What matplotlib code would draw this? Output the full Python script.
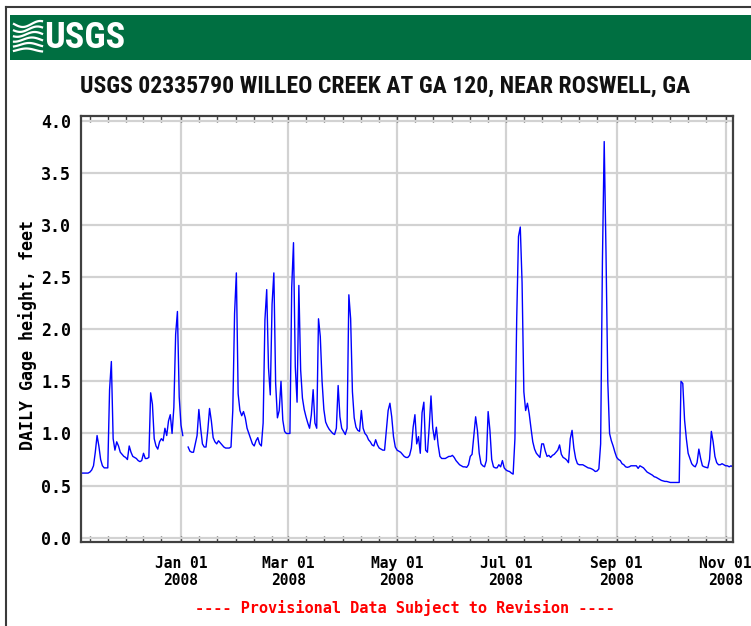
import numpy as np
import matplotlib
matplotlib.use("Agg")
import matplotlib.pyplot as plt
import matplotlib.dates as mdates
from matplotlib.lines import Line2D
from matplotlib.patches import Rectangle
from matplotlib import font_manager as fm

# ---------------- data (daily gage height, feet) ----------------
start_date = "2007-11-06"
nov_2007 = [0.62, 0.62, 0.62, 0.62, 0.62, 0.63, 0.65, 0.69, 0.82, 0.98, 0.88, 0.75, 0.69,
            0.67, 0.67, 0.67, 1.42, 1.69, 0.95, 0.84, 0.92, 0.88, 0.82, 0.80, 0.78]
dec_2007 = [0.77, 0.75, 0.88, 0.82, 0.78, 0.77, 0.76, 0.74, 0.73, 0.74, 0.81, 0.76, 0.76,
            0.77, 1.39, 1.28, 0.95, 0.88, 0.85, 0.92, 0.95, 0.93, 1.05, 0.98, 1.12, 1.18,
            1.00, 1.25, 1.95, 2.17, 1.35]
jan_2008 = [1.08, 0.98, np.nan, np.nan, 0.87, 0.83, 0.82, 0.82, 0.90, 0.98, 1.23, 1.05,
            0.90, 0.87, 0.87, 1.03, 1.24, 1.12, 0.96, 0.92, 0.90, 0.93, 0.91, 0.89, 0.87,
            0.86, 0.86, 0.86, 0.87, 1.22, 2.15]
feb_2008 = [2.54, 1.38, 1.22, 1.17, 1.21, 1.15, 1.05, 1.00, 0.95, 0.90, 0.88, 0.93, 0.96,
            0.90, 0.88, 1.10, 2.09, 2.38, 1.63, 1.37, 2.24, 2.54, 1.48, 1.15, 1.22, 1.50,
            1.13, 1.02, 1.00]
mar_2008 = [1.00, 1.00, 2.40, 2.83, 1.64, 1.30, 2.42, 1.61, 1.34, 1.23, 1.16, 1.10, 1.05,
            1.18, 1.42, 1.10, 1.05, 2.10, 1.93, 1.50, 1.23, 1.11, 1.07, 1.04, 1.02, 1.00,
            0.99, 1.05, 1.46, 1.16, 1.05]
apr_2008 = [1.02, 0.99, 1.05, 2.33, 2.10, 1.40, 1.15, 1.06, 1.03, 1.02, 1.22, 1.05, 1.00,
            0.98, 0.94, 0.92, 0.89, 0.88, 0.94, 0.89, 0.86, 0.85, 0.84, 0.84, 1.03, 1.22,
            1.29, 1.16, 0.97, 0.87]
may_2008 = [0.84, 0.83, 0.82, 0.80, 0.78, 0.77, 0.77, 0.79, 0.86, 1.06, 1.18, 0.90, 0.97,
            0.81, 1.20, 1.30, 0.84, 0.82, 1.06, 1.36, 1.05, 0.94, 1.06, 0.89, 0.78, 0.76,
            0.76, 0.76, 0.77, 0.78, 0.78]
jun_2008 = [0.79, 0.77, 0.74, 0.72, 0.70, 0.69, 0.68, 0.68, 0.675, 0.70, 0.78, 0.80, 0.98,
            1.16, 1.03, 0.81, 0.71, 0.69, 0.68, 0.74, 1.21, 1.03, 0.75, 0.68, 0.67, 0.67,
            0.70, 0.68, 0.74, 0.67]
jul_2008 = [0.65, 0.64, 0.635, 0.62, 0.61, 0.95, 2.10, 2.89, 2.98, 2.45, 1.40, 1.22, 1.29,
            1.19, 1.05, 0.92, 0.85, 0.81, 0.79, 0.77, 0.90, 0.90, 0.83, 0.78, 0.79, 0.77,
            0.79, 0.80, 0.82, 0.84, 0.89]
aug_2008 = [0.80, 0.77, 0.76, 0.745, 0.72, 0.95, 1.03, 0.86, 0.76, 0.71, 0.70, 0.70, 0.70,
            0.69, 0.68, 0.67, 0.667, 0.66, 0.65, 0.635, 0.64, 0.66, 0.90, 2.65, 3.80, 2.74,
            1.50, 1.00, 0.93, 0.88, 0.82]
sep_2008 = [0.77, 0.75, 0.74, 0.71, 0.70, 0.68, 0.675, 0.68, 0.69, 0.69, 0.69, 0.69, 0.665,
            0.69, 0.68, 0.67, 0.65, 0.63, 0.62, 0.61, 0.60, 0.585, 0.58, 0.57, 0.56, 0.55,
            0.545, 0.54, 0.54, 0.535]
oct_2008 = [0.53, 0.53, 0.53, 0.53, 0.53, 0.53, 1.50, 1.48, 1.13, 0.95, 0.81, 0.76, 0.71,
            0.69, 0.68, 0.72, 0.85, 0.76, 0.69, 0.68, 0.675, 0.67, 0.75, 1.02, 0.92, 0.78,
            0.72, 0.70, 0.70, 0.71, 0.70]
nov_2008 = [0.69, 0.69, 0.68, 0.69, 0.68]

xtick_dates = ["2008-01-01", "2008-03-01", "2008-05-01", "2008-07-01", "2008-09-01", "2008-11-01"]
xtick_labels = ["Jan 01\n2008", "Mar 01\n2008", "May 01\n2008", "Jul 01\n2008", "Sep 01\n2008", "Nov 01\n2008"]
yticks = [0.0, 0.5, 1.0, 1.5, 2.0, 2.5, 3.0, 3.5, 4.0]
ytick_labels = ["0.0", "0.5", "1.0", "1.5", "2.0", "2.5", "3.0", "3.5", "4.0"]

title = "USGS 02335790 WILLEO CREEK AT GA 120, NEAR ROSWELL, GA"
ylabel = "DAILY Gage height, feet"
footer = "---- Provisional Data Subject to Revision ----"

values = np.array(nov_2007 + dec_2007 + jan_2008 + feb_2008 + mar_2008 + apr_2008 +
                  may_2008 + jun_2008 + jul_2008 + aug_2008 + sep_2008 + oct_2008 + nov_2008,
                  dtype=float)
dates = np.datetime64(start_date) + np.arange(len(values)).astype("timedelta64[D]")

# ---------------- fonts: look for a condensed bold sans ----------------
def is_condensed(f):
    st = f.stretch
    if isinstance(st, (int, float)):
        return st < 500
    st = str(st).lower()
    return ("condensed" in st) or ("narrow" in f.name.lower()) or ("condensed" in f.name.lower())

def is_bold(f):
    w = f.weight
    if isinstance(w, (int, float)):
        return 600 <= w <= 800
    return str(w).lower() in ("bold", "demibold", "semibold")

prefs = ["Liberation Sans Narrow", "Roboto Condensed", "Open Sans Condensed",
         "Noto Sans", "DejaVu Sans", "Open Sans", "Roboto", "Noto Sans Display"]
cond = [f for f in fm.fontManager.ttflist if is_condensed(f) and is_bold(f)]
cond_fp = None
for p in prefs:
    hits = [f for f in cond if f.name == p and "italic" not in str(f.style).lower()]
    if hits:
        cond_fp = fm.FontProperties(fname=hits[0].fname)
        break
if cond_fp is None:
    title_fp = fm.FontProperties(family="Liberation Sans", weight="bold", size=14)
    logo_fp = fm.FontProperties(family="Liberation Sans", weight="bold", size=24)
else:
    title_fp = cond_fp.copy()
    title_fp.set_size(17)
    logo_fp = cond_fp.copy()
    logo_fp.set_size(30)

mono = "DejaVu Sans Mono"

W, H = 751, 626
fig = plt.figure(figsize=(W / 100, H / 100), dpi=100)
fig.patch.set_facecolor("white")

def fx(x):
    return np.asarray(x) / W

def fy(y):
    return 1 - np.asarray(y) / H

# outer border
fig.add_artist(Line2D([fx(6.5), fx(6.5)], [0, fy(6.5)], color="#3a3a3a", lw=1.5))
fig.add_artist(Line2D([fx(6.5), 1], [fy(6.5), fy(6.5)], color="#3a3a3a", lw=1.5))

# green banner
fig.add_artist(Rectangle((fx(9.5), fy(60)), 1, 45 / H, facecolor="#006f41",
                         edgecolor="none", transform=fig.transFigure))
# logo waves
t = np.linspace(0, 1, 50)
for k in range(6):
    yy = 24 + k * 5.2 + 3.0 * np.sin(t * np.pi * 1.6 + k * 0.5) * (1 - 0.1 * k)
    xx = 14 + 28 * t
    fig.add_artist(Line2D(fx(xx), fy(yy), color="white", lw=1.6))
logo_txt = fig.text(fx(44), fy(38), "USGS", color="white", fontproperties=logo_fp,
                    ha="left", va="center")

# title
title_txt = fig.text(fx(385), fy(86), title, fontproperties=title_fp,
                     ha="center", va="center", color="#111111")

# ---------------- axes ----------------
ax = fig.add_axes([fx(81), fy(542), (733 - 81) / W, (542 - 116) / H])
ax.plot(dates, values, color="#0000ff", lw=1.0)
ax.set_ylim(-0.041, 4.045)
ax.set_xlim(np.datetime64("2007-11-06"), np.datetime64("2008-11-05T03:00"))

ax.set_yticks(yticks)
ax.set_yticklabels(ytick_labels)
ax.set_xticks([np.datetime64(d) for d in xtick_dates])
ax.set_xticklabels(xtick_labels)
ax.xaxis.set_minor_locator(mdates.DayLocator(bymonthday=[1, 11, 21]))

ax.grid(True, which="major", color="#d2d2d2", lw=1.6)
ax.set_axisbelow(True)
for s in ax.spines.values():
    s.set_color("#404040")
    s.set_linewidth(1.6)

ax.tick_params(axis="x", which="both", direction="in", top=True, bottom=True,
               length=4, width=1, color="#404040", pad=10)
ax.tick_params(axis="y", which="both", length=0, pad=7)
for lab in ax.get_xticklabels():
    lab.set_fontfamily(mono)
    lab.set_fontweight("bold")
    lab.set_fontsize(10.5)
    lab.set_linespacing(1.2)
for lab in ax.get_yticklabels():
    lab.set_fontfamily(mono)
    lab.set_fontweight("bold")
    lab.set_fontsize(12)

fig.text(fx(28), fy(335), ylabel, rotation=90, family=mono, fontweight="bold",
         fontsize=12, ha="center", va="center")
fig.text(fx(405), fy(608), footer, color="#ff0000", family=mono, fontweight="bold",
         fontsize=11, ha="center", va="center")

# fit the title and logo widths to the reference if needed
fig.canvas.draw()
r = fig.canvas.get_renderer()
for txt, target in ((title_txt, 614.0), (logo_txt, 81.0)):
    w = txt.get_window_extent(r).width
    if w > target * 1.04:
        txt.set_fontsize(txt.get_fontsize() * target / w)

fig.savefig("out.png", dpi=100)
